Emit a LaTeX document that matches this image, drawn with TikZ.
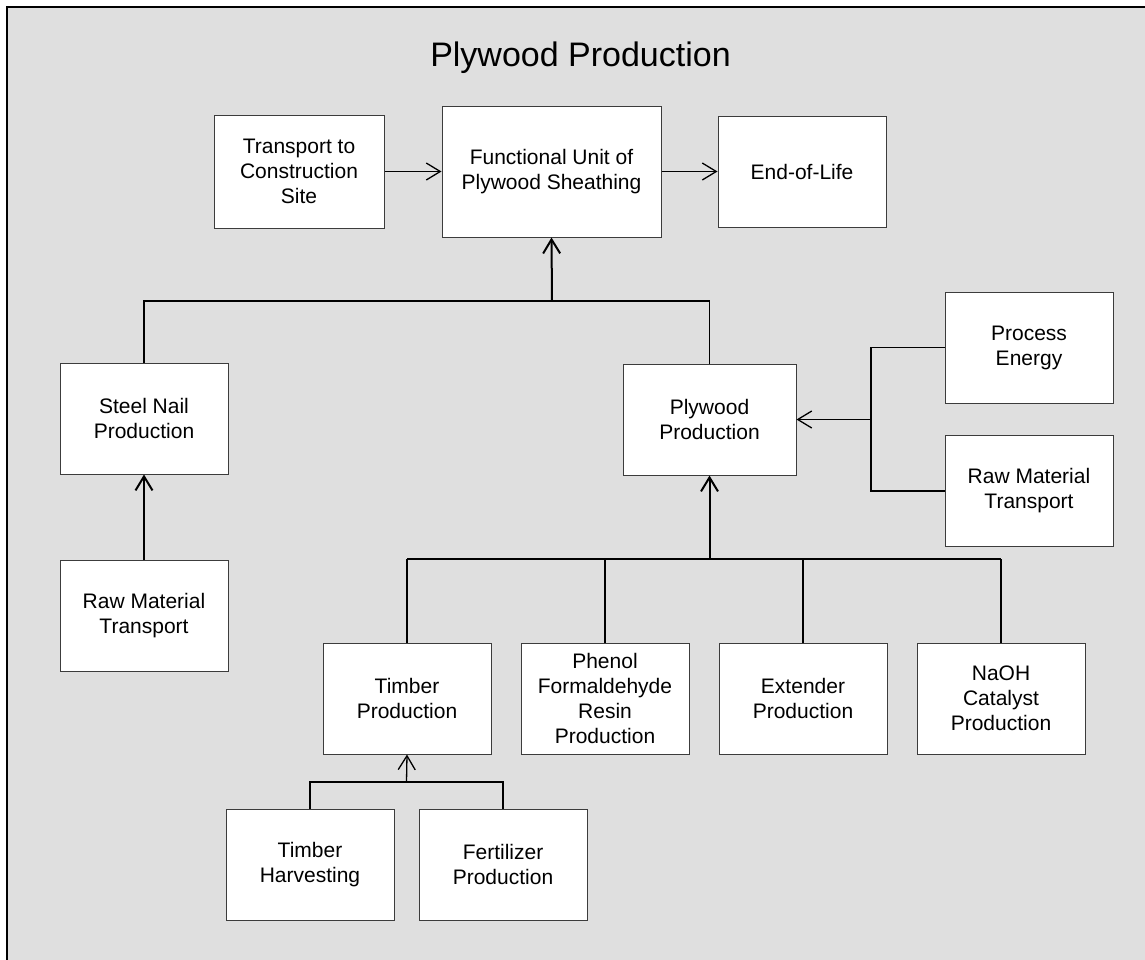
\documentclass[tikz,border=0pt]{standalone}
\usepackage{fontspec}
\setmainfont{Liberation Sans}
\usetikzlibrary{arrows.meta}
\definecolor{panelgray}{HTML}{DFDFDF}
\definecolor{boxline}{HTML}{3C3C3C}
\tikzset{
  proc/.style={draw=boxline, fill=white, line width=1pt, align=center,
    minimum width=168pt, minimum height=111pt, inner sep=0pt,
    font=\fontsize{21}{25}\selectfont},
  link/.style={line width=1.3pt},
  trunk/.style={line width=2pt},
  arr/.style={-{Straight Barb[length=14pt,width=17pt]}}
}
% #1 = list of name/x/y/text
\newcommand*{\ProcBoxes}[1]{%
  \foreach \name/\x/\y/\txt in {#1} {
    \node [proc] (\name) at (\x,\y) {\txt};
  }%
}

\begin{document}
\begin{tikzpicture}[x=1pt, y=-1pt]
  \useasboundingbox (0,0) rectangle (1145,959);
  \draw [fill=panelgray, line width=2pt] (7,7) rectangle (1170,985);
  \node [anchor=base, font=\fontsize{34}{40}\selectfont] (title) at (580.5,66) {Plywood Production};

  \node [proc, minimum width=219pt, minimum height=131pt] (fu) at (551.5,171.5) {Functional Unit of\\Plywood Sheathing};
  \node [proc, minimum width=170pt, minimum height=113pt] (transp) at (299,171.5) {Transport to\\Construction\\Site};
  \ProcBoxes{eol/802/171.5/{End-of-Life},
    nail/144/418.5/{Steel Nail\\Production},
    rawl/144/616/{Raw Material\\Transport},
    energy/1029/347.5/{Process\\Energy},
    rawr/1029/491/{Raw Material\\Transport},
    timber/407/698.5/{Timber\\Production},
    resin/605/698.5/{Phenol\\Formaldehyde\\Resin\\Production},
    extender/803/698.5/{Extender\\Production},
    naoh/1001/698.5/{NaOH\\Catalyst\\Production},
    harvest/310/864.5/{Timber\\Harvesting},
    fert/503/864.5/{Fertilizer\\Production}}
  \node [proc, minimum width=173pt] (plywood) at (709.5,419.5) {Plywood\\Production};

  % top row
  \draw [link, arr] (transp) -- (fu);
  \draw [link, arr] (fu) -- (eol);

  % into the functional unit
  \coordinate (jtop) at (552,301);
  \draw [link] (nail.north) |- (jtop) -| (plywood.north);
  \draw [trunk, arr] (jtop) -- (fu.south);

  % steel nails
  \draw [trunk, arr] (rawl.north) -- (nail.south);

  % energy and transport for plywood
  \coordinate (jright) at (871,419.5);
  \draw [link] (energy.west) -| (jright) |- (rawr.west);
  \draw [link, arr] (jright) -- (plywood.east);

  % inputs to plywood
  \coordinate (jbot) at (709.5,559);
  \draw [link] (timber.north) -- (timber.north |- jbot);
  \draw [link] (resin.north) -- (resin.north |- jbot);
  \draw [link] (extender.north) -- (extender.north |- jbot);
  \draw [link] (naoh.north) -- (naoh.north |- jbot);
  \draw [line width=1.8pt] (timber.north |- jbot) -- (naoh.north |- jbot);
  \draw [trunk, arr] (jbot) -- (plywood.south);

  % timber inputs
  \coordinate (jtim) at (406.5,782);
  \draw [link] (harvest.north) |- (jtim) -| (fert.north);
  \draw [link, arr] (jtim) -- (timber.south);
\end{tikzpicture}
\end{document}
